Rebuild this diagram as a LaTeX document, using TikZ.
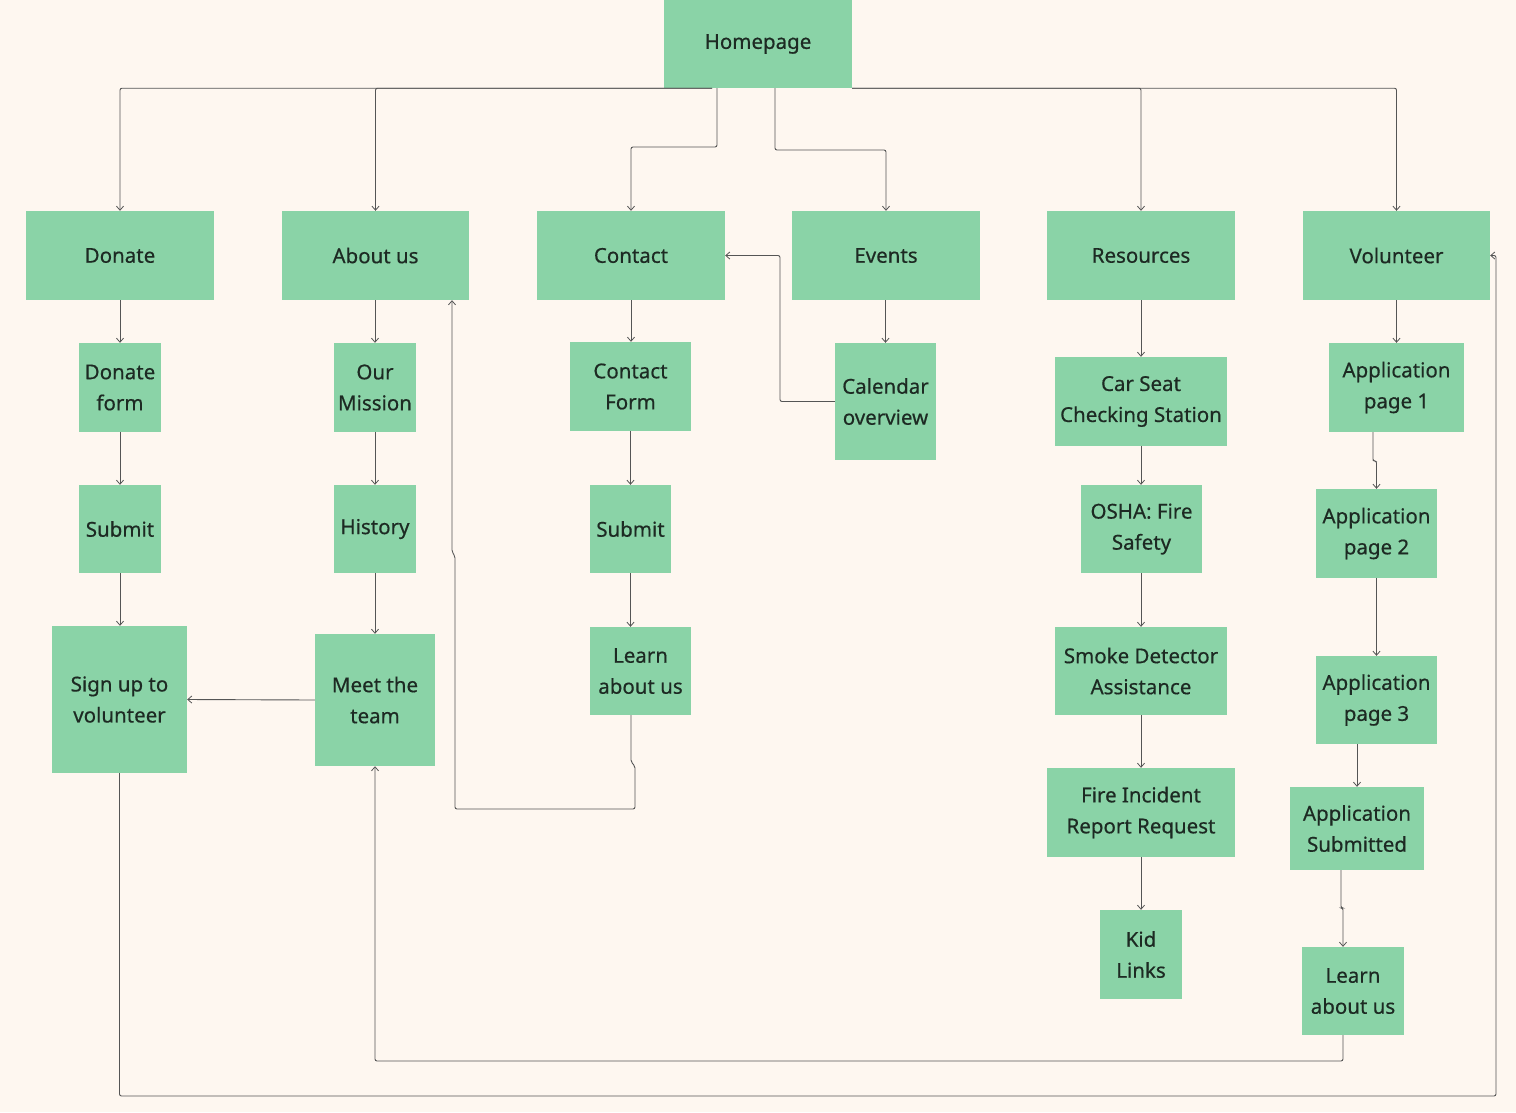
\documentclass[tikz,border=0pt]{standalone}
\usepackage{fontspec}
\setmainfont{Noto Sans}
\newfontfamily\boxfont{Noto Sans}[FakeBold=0.5]
\usetikzlibrary{arrows.meta}
\definecolor{cream}{HTML}{FEF7F0}
\definecolor{boxgreen}{HTML}{8AD3A7}
\definecolor{txt}{HTML}{1D2A23}
\definecolor{lin}{HTML}{555555}
\tikzset{
  box/.style={fill=boxgreen, draw=none, inner sep=0pt, align=center, text=txt,
    font=\boxfont\fontsize{20.5}{31}\selectfont},
  conn/.style={draw=lin, line width=0.9pt, rounded corners=2pt,
    -{Straight Barb[length=4pt,width=7pt,line width=0.8pt]}},
}
\begin{document}
\begin{tikzpicture}[x=1pt,y=-1pt]
\fill[cream] (0,0) rectangle (1516,1112);
\useasboundingbox (0,0) rectangle (1516,1112);

\node[box, minimum width=188pt, minimum height=88pt] (home) at (758,44) {Homepage};
\node[box, minimum width=188pt, minimum height=89pt] (donate) at (120,255.5) {Donate};
\node[box, minimum width=187pt, minimum height=89pt] (about) at (375.5,255.5) {About us};
\node[box, minimum width=188pt, minimum height=89pt] (contact) at (631,255.5) {Contact};
\node[box, minimum width=188pt, minimum height=89pt] (events) at (886,255.5) {Events};
\node[box, minimum width=188pt, minimum height=89pt] (res) at (1141,255.5) {Resources};
\node[box, minimum width=187pt, minimum height=89pt] (vol) at (1396.5,255.5) {Volunteer};

\node[box, minimum width=82pt, minimum height=89pt] (dform) at (120,387.5) {Donate\\form};
\node[box, minimum width=82pt, minimum height=88pt] (dsubmit) at (120,529) {Submit};
\node[box, minimum width=135pt, minimum height=147pt] (signup) at (119.5,699.5) {Sign up to\\volunteer};

\node[box, minimum width=82pt, minimum height=89pt] (mission) at (375,387.5) {Our\\Mission};
\node[box, minimum width=82pt, minimum height=88pt] (history) at (375,529) {History};
\node[box, minimum width=120pt, minimum height=132pt] (team) at (375,700) {Meet the\\team};

\node[box, minimum width=121pt, minimum height=89pt] (cform) at (630.5,386.5) {Contact\\Form};
\node[box, minimum width=81pt, minimum height=88pt] (csubmit) at (630.5,529) {Submit};
\node[box, minimum width=101pt, minimum height=88pt] (clearn) at (640.5,671) {Learn\\about us};

\node[box, minimum width=101pt, minimum height=117pt] (cal) at (885.5,401.5) {Calendar\\overview};

\node[box, minimum width=172pt, minimum height=89pt] (carseat) at (1141,401.5) {Car Seat\\Checking Station};
\node[box, minimum width=121pt, minimum height=88pt] (osha) at (1141.5,529) {OSHA: Fire\\Safety};
\node[box, minimum width=172pt, minimum height=88pt] (smoke) at (1141,671) {Smoke Detector\\Assistance};
\node[box, minimum width=188pt, minimum height=89pt] (fire) at (1141,812.5) {Fire Incident\\Report Request};
\node[box, minimum width=82pt, minimum height=89pt] (kid) at (1141,954.5) {Kid\\Links};

\node[box, minimum width=135pt, minimum height=89pt] (app1) at (1396.5,387.5) {Application\\page 1};
\node[box, minimum width=121pt, minimum height=89pt] (app2) at (1376.5,533.5) {Application\\page 2};
\node[box, minimum width=121pt, minimum height=88pt] (app3) at (1376.5,700) {Application\\page 3};
\node[box, minimum width=134pt, minimum height=83pt] (appsub) at (1357,828.5) {Application\\Submitted};
\node[box, minimum width=102pt, minimum height=88pt] (vlearn) at (1353,991) {Learn\\about us};

% coordinates for routing
\coordinate (hl) at (712,88);
\coordinate (hc1) at (717,147);
\coordinate (he1) at (775,150);
\coordinate (ce) at (780,401.5);
\coordinate (la0) at (631,762);
\coordinate (la1) at (635,809);
\coordinate (la2) at (455,809);
\coordinate (la3) at (455,556);
\coordinate (la4) at (452,552);
\coordinate (vt1) at (1343,1061);
\coordinate (vt) at (375,1061);
\coordinate (sv1) at (119.5,1096);
\coordinate (sv2) at (1496,1096);
\coordinate (a12) at (1373,461);
\coordinate (asl) at (1341,908);
\coordinate (asl2) at (1343,947);

% homepage links
\draw[conn] (home.south -| hl) -| (donate.north);
\draw[conn] (home.south -| hl) -| (about.north);
\draw[conn] (home.south -| hc1) -- (hc1) -| (contact.north);
\draw[conn] (home.south -| he1) -- (he1) -| (events.north);
\draw[conn] (home.south east) -| (res.north);
\draw[conn] (home.south east) -| (vol.north);

% donate column
\draw[conn] (donate.south) -- (dform.north);
\draw[conn] (dform.south) -- (dsubmit.north);
\draw[conn] (dsubmit.south) -- (dsubmit.south |- signup.north);

% about column
\draw[conn] (about.south -| mission.north) -- (mission.north);
\draw[conn] (mission.south) -- (history.north);
\draw[conn] (history.south) -- (team.north);
\draw[conn] (team.west) -- (signup.east);

% contact column
\draw[conn] (contact.south) -- (contact.south |- cform.north);
\draw[conn] (cform.south) -- (csubmit.north);
\draw[conn] (csubmit.south) -- (csubmit.south |- clearn.north);
\draw[conn] (clearn.south -| la0) -- (la0) -- ++(4,4) -- (la1) -- (la2) -- (la3) -- (la4) -- (la4 |- about.south);

% events
\draw[conn] (events.south -| cal.north) -- (cal.north);
\draw[conn] (cal.west) -- (ce) |- (contact.east);

% resources column
\draw[conn] (res.south) -- (carseat.north);
\draw[conn] (carseat.south) -- (carseat.south |- osha.north);
\draw[conn] (osha.south -| smoke.north) -- (smoke.north);
\draw[conn] (smoke.south) -- (fire.north);
\draw[conn] (fire.south) -- (kid.north);

% volunteer column
\draw[conn] (vol.south) -- (app1.north);
\draw[conn] (app1.south -| a12) -- (a12) -| (app2.north);
\draw[conn] (app2.south) -- (app3.north);
\draw[conn] (app3.south -| appsub.north) -- (appsub.north);
\draw[conn] (appsub.south -| asl) -- (asl) -| (vlearn.north -| asl2);

% long loops
\draw[conn] (vlearn.south -| vt1) -- (vt1) -- (vt) -- (team.south);
\draw[conn] (signup.south) -- (sv1) -- (sv2) |- (vol.east);
\end{tikzpicture}
\end{document}
